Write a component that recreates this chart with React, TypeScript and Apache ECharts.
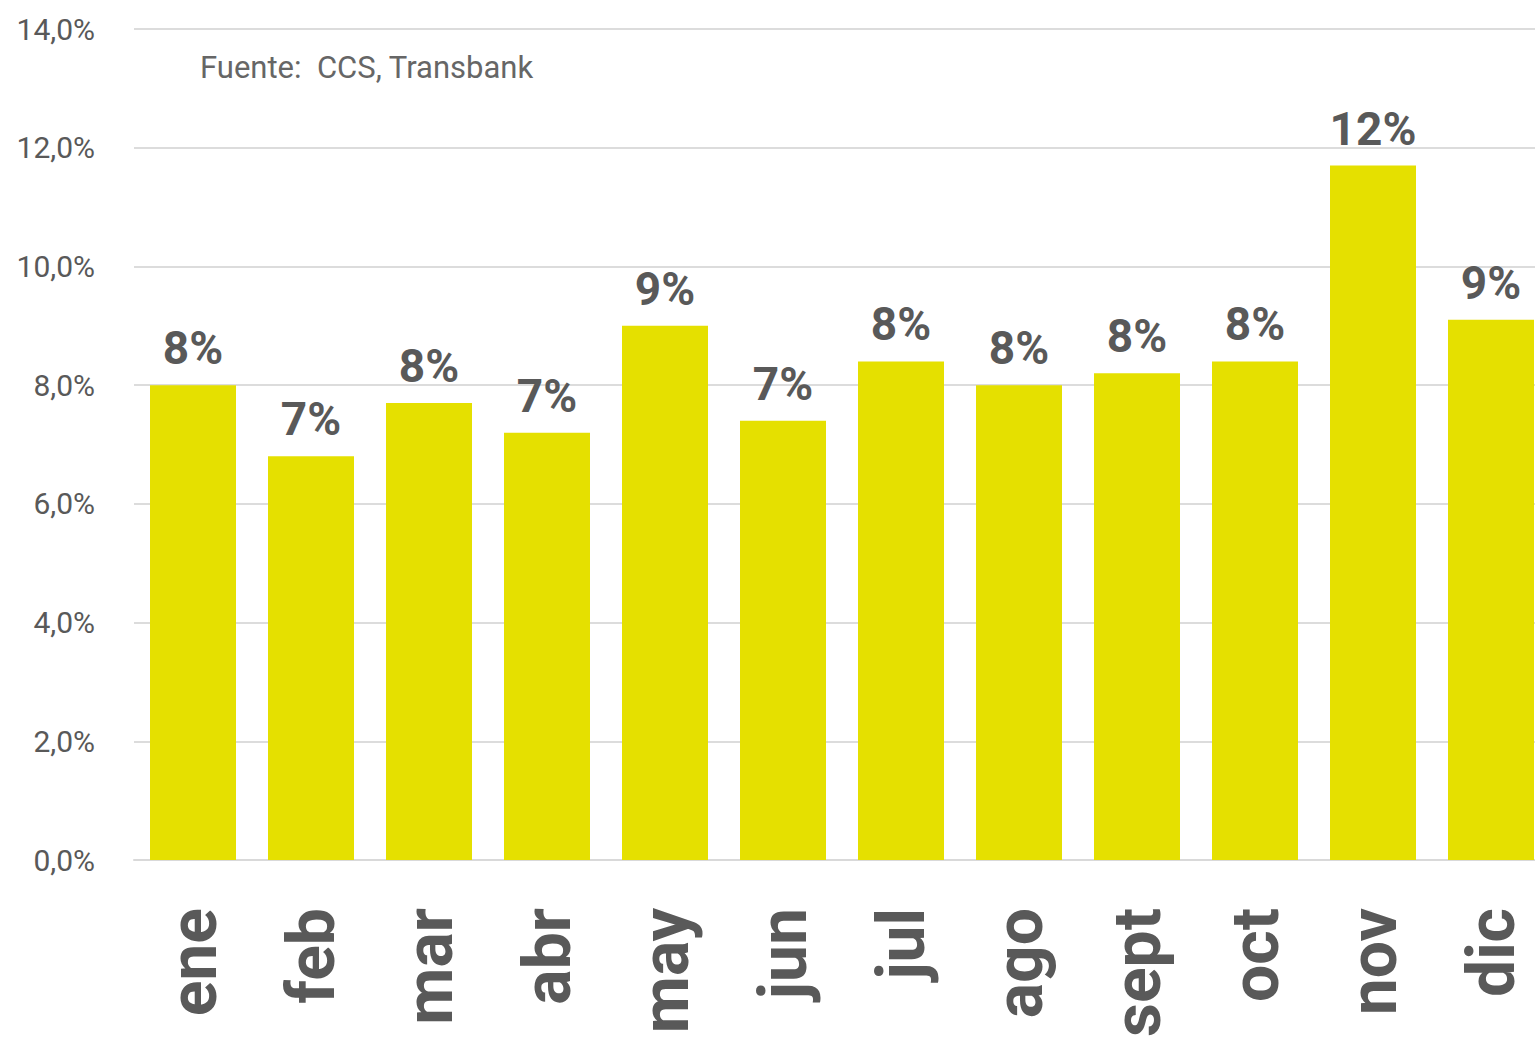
import React, { useEffect, useRef } from "react";
import * as echarts from "echarts";

const months = ["ene", "feb", "mar", "abr", "may", "jun", "jul", "ago", "sept", "oct", "nov", "dic"];
const values = [8.0, 6.8, 7.7, 7.2, 9.0, 7.4, 8.4, 8.0, 8.2, 8.4, 11.7, 9.1];
const sourceText = "Fuente:  CCS, Transbank";

const FONT = "Roboto, 'DejaVu Sans Condensed', sans-serif";

export default function App() {
  const ref = useRef<HTMLDivElement>(null);
  useEffect(() => {
    if (!ref.current) return;
    const chart = echarts.init(ref.current, undefined, { renderer: "svg" });
    chart.setOption({
      animation: false,
      backgroundColor: "#ffffff",
      grid: { left: 134, right: -15, top: 29, bottom: 177, containLabel: false, outerBoundsMode: "none" },
      xAxis: {
        type: "category",
        data: months,
        axisLine: { show: true, lineStyle: { color: "#d9d9d9", width: 2 } },
        axisTick: { show: false },
        axisLabel: {
          rotate: 90,
          margin: 48,
          fontFamily: FONT,
          fontWeight: "bold",
          fontSize: 66,
          color: "#595959",
        },
      },
      yAxis: {
        type: "value",
        min: 0,
        max: 14,
        interval: 2,
        axisLine: { show: false },
        axisTick: { show: false },
        splitLine: { lineStyle: { color: "#dcdcdc", width: 2 } },
        axisLabel: {
          margin: 39,
          fontFamily: FONT,
          fontSize: 30,
          color: "#595959",
          formatter: (v: number) => v.toFixed(1).replace(".", ",") + "%",
        },
      },
      graphic: [
        {
          type: "text",
          left: 200,
          top: 52,
          style: {
            text: sourceText,
            fontFamily: FONT,
            fontSize: 31,
            fill: "#666666",
          },
        },
      ],
      series: [
        {
          type: "bar",
          data: values,
          barWidth: 86,
          itemStyle: { color: "#e5e000" },
          label: {
            show: true,
            position: "top",
            distance: 14,
            fontFamily: FONT,
            fontWeight: "bold",
            fontSize: 46,
            color: "#595959",
            formatter: (p: any) => Math.round(p.value) + "%",
          },
        },
      ],
    });
    return () => chart.dispose();
  }, []);
  return (
    <div
      style={{ position: "fixed", left: 0, top: 0, width: 1535, height: 1037, overflow: "hidden", background: "#fff" }}
    >
      <div ref={ref} style={{ width: 1535, height: 1037 }} />
    </div>
  );
}
